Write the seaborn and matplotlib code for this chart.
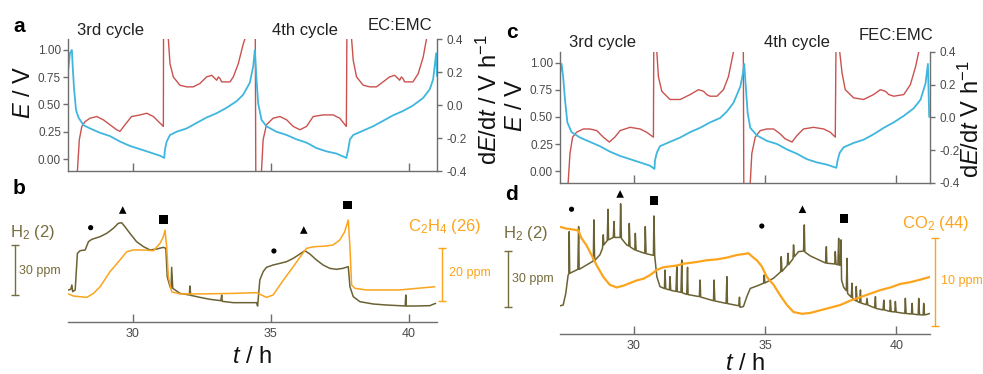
import matplotlib
matplotlib.use("Agg")
import matplotlib.pyplot as plt
import matplotlib.transforms as mtransforms
import seaborn as sns

# ---------------- data ----------------
# panel a : EC:EMC, potential E (V) and dE/dt (V/h) vs time (h)
a_t_E = [27.66, 27.73, 27.80, 27.83, 27.88, 27.95, 28.04, 28.22, 28.46, 28.82,
         29.18, 29.54, 29.90, 30.27, 30.63, 30.99, 31.14, 31.17, 31.23, 31.35,
         31.59, 31.95, 32.31, 32.67, 33.04, 33.40, 33.76, 34.00, 34.24, 34.36,
         34.42, 34.48, 34.54, 34.66, 34.84, 35.20, 35.57, 35.93, 36.29, 36.65,
         37.01, 37.37, 37.73, 37.80, 37.86, 37.98, 38.34, 38.70, 39.06, 39.42,
         39.78, 40.14, 40.51, 40.75, 40.87, 40.98, 41.01]
a_E = [0.80, 0.97, 1.00, 0.85, 0.64, 0.45, 0.38, 0.31, 0.28, 0.24,
       0.21, 0.16, 0.12, 0.09, 0.06, 0.03, 0.01, 0.09, 0.16, 0.22,
       0.25, 0.28, 0.33, 0.38, 0.42, 0.47, 0.53, 0.59, 0.70, 0.85,
       1.00, 0.73, 0.51, 0.36, 0.30, 0.25, 0.22, 0.18, 0.15, 0.10,
       0.07, 0.05, 0.01, 0.09, 0.18, 0.22, 0.26, 0.30, 0.35, 0.40,
       0.44, 0.49, 0.56, 0.64, 0.73, 0.97, 0.76]
a_t_d = [27.93, 28.00, 28.07, 28.16, 28.28, 28.46, 28.70, 28.94, 29.18, 29.42,
         29.54, 29.72, 29.96, 30.27, 30.51, 30.75, 30.99, 31.11, 31.12, 31.27,
         31.29, 31.35, 31.47, 31.71, 31.95, 32.19, 32.43, 32.67, 32.86, 33.04,
         33.10, 33.16, 33.22, 33.52, 33.64, 33.82, 34.00, 34.06, 34.18, 34.43,
         34.46, 34.64, 34.66, 34.72, 34.84, 35.08, 35.33, 35.57, 35.81, 36.05,
         36.29, 36.53, 36.89, 37.25, 37.49, 37.73, 37.76, 37.89, 37.92, 37.98,
         38.10, 38.34, 38.58, 38.82, 39.06, 39.29, 39.48, 39.66, 39.72, 39.78,
         39.84, 40.14, 40.33, 40.51, 40.63, 40.75]
a_dEdt = [-0.70, -0.40, -0.21, -0.13, -0.10, -0.08, -0.07, -0.09, -0.12, -0.15,
          -0.16, -0.12, -0.07, -0.06, -0.05, -0.07, -0.11, -0.13, 0.70, 0.70,
          0.40, 0.25, 0.17, 0.12, 0.11, 0.11, 0.13, 0.17, 0.18, 0.15,
          0.17, 0.16, 0.14, 0.14, 0.17, 0.25, 0.37, 0.40, 0.70, 0.70,
          -0.70, -0.70, -0.40, -0.21, -0.12, -0.08, -0.07, -0.09, -0.13, -0.15,
          -0.13, -0.07, -0.06, -0.06, -0.08, -0.13, 0.70, 0.70, 0.40, 0.27,
          0.17, 0.12, 0.11, 0.11, 0.14, 0.17, 0.18, 0.15, 0.17, 0.16,
          0.14, 0.14, 0.19, 0.29, 0.40, 0.70]

# panel c : FEC:EMC
c_t_E = [27.18, 27.24, 27.30, 27.37, 27.46, 27.62, 27.94, 28.32, 28.70, 29.08,
         29.47, 29.85, 30.23, 30.61, 30.78, 30.80, 30.87, 30.99, 31.37, 31.76,
         32.14, 32.52, 32.90, 33.28, 33.54, 33.79, 34.05, 34.15, 34.20, 34.26,
         34.33, 34.43, 34.68, 35.06, 35.45, 35.83, 36.21, 36.59, 36.97, 37.35,
         37.71, 37.76, 37.84, 37.99, 38.37, 38.75, 39.13, 39.52, 39.90, 40.28,
         40.66, 40.92, 41.11, 41.20, 41.25]
c_E = [0.90, 0.99, 0.87, 0.66, 0.45, 0.36, 0.31, 0.27, 0.23, 0.18,
       0.14, 0.11, 0.08, 0.05, 0.02, 0.10, 0.17, 0.23, 0.27, 0.31,
       0.36, 0.40, 0.45, 0.49, 0.55, 0.63, 0.78, 0.90, 0.99, 0.78,
       0.54, 0.40, 0.33, 0.28, 0.25, 0.20, 0.16, 0.11, 0.08, 0.06,
       0.03, 0.10, 0.17, 0.22, 0.26, 0.29, 0.34, 0.40, 0.45, 0.51,
       0.58, 0.66, 0.81, 0.99, 0.50]
c_t_d = [27.46, 27.49, 27.56, 27.66, 27.81, 28.07, 28.32, 28.58, 28.83, 29.06,
         29.27, 29.47, 29.85, 30.23, 30.48, 30.74, 30.76, 30.84, 30.87, 30.93,
         31.06, 31.37, 31.76, 32.14, 32.46, 32.65, 32.77, 32.90, 33.16, 33.41,
         33.60, 33.79, 33.92, 34.16, 34.19, 34.40, 34.43, 34.49, 34.62, 34.81,
         35.06, 35.32, 35.57, 35.76, 36.02, 36.21, 36.46, 36.84, 37.23, 37.48,
         37.67, 37.71, 37.81, 37.84, 37.93, 38.05, 38.37, 38.75, 39.13, 39.39,
         39.58, 39.71, 39.90, 40.28, 40.53, 40.73, 40.85, 40.94]
c_dEdt = [-0.70, -0.40, -0.22, -0.12, -0.09, -0.07, -0.07, -0.08, -0.12, -0.15,
          -0.12, -0.08, -0.06, -0.07, -0.09, -0.12, 0.70, 0.70, 0.40, 0.25,
          0.16, 0.11, 0.11, 0.14, 0.17, 0.16, 0.14, 0.13, 0.13, 0.17,
          0.25, 0.40, 0.70, 0.70, -0.70, -0.70, -0.40, -0.22, -0.12, -0.08,
          -0.07, -0.07, -0.10, -0.13, -0.15, -0.11, -0.07, -0.06, -0.07, -0.09,
          -0.12, 0.70, 0.70, 0.40, 0.27, 0.17, 0.12, 0.11, 0.14, 0.17,
          0.16, 0.14, 0.13, 0.14, 0.20, 0.31, 0.40, 0.70]

# panel b : H2 (m/z 2) and C2H4 (m/z 26), ppm (relative)
b_t_h2 = [27.67, 27.76, 27.80, 27.83, 27.92, 28.00, 28.10, 28.28, 28.40, 28.52,
          28.82, 29.06, 29.30, 29.48, 29.60, 29.72, 29.90, 30.14, 30.39, 30.63,
          30.87, 31.11, 31.20, 31.25, 31.35, 31.39, 31.41, 31.45, 31.71, 32.05,
          32.07, 32.10, 32.43, 32.80, 33.19, 33.22, 33.24, 33.64, 34.12, 34.48,
          34.52, 34.60, 34.72, 34.84, 35.08, 35.33, 35.57, 35.81, 36.05, 36.23,
          36.41, 36.65, 36.89, 37.13, 37.37, 37.61, 37.80, 37.86, 37.98, 38.22,
          38.70, 39.18, 39.86, 39.88, 39.90, 40.27, 40.75, 40.96]
b_h2 = [19.2, 19.6, 22.2, 18.2, 19.2, 41.2, 42.8, 43.2, 48.2, 49.6,
        51.2, 53.2, 56.2, 59.2, 59.6, 57.2, 53.2, 48.2, 45.2, 43.2,
        43.8, 44.8, 44.2, 27.2, 21.2, 20.2, 32.8, 20.2, 17.2, 16.2,
        21.6, 16.0, 14.8, 13.6, 12.8, 16.2, 12.4, 11.6, 11.6, 11.6,
        9.6, 25.2, 30.2, 32.8, 34.2, 35.2, 36.2, 38.2, 40.8, 42.8,
        40.8, 37.2, 34.2, 32.2, 31.6, 32.2, 33.2, 21.2, 15.2, 12.2,
        10.8, 10.2, 9.6, 16.2, 9.6, 9.6, 9.8, 11.2]
b_t_c2h4 = [27.67, 27.86, 28.34, 28.58, 28.82, 29.18, 29.54, 29.78, 30.02, 30.39,
            30.75, 30.99, 31.11, 31.17, 31.23, 31.29, 31.41, 31.71, 32.43, 33.64,
            34.48, 34.84, 35.08, 35.45, 35.81, 36.11, 36.29, 36.53, 37.01, 37.25,
            37.49, 37.67, 37.80, 37.86, 37.92, 38.04, 38.46, 39.66, 40.27, 40.93]
b_c2h4 = [10.6, 9.8, 9.3, 10.8, 13.3, 19.0, 23.4, 26.5, 27.2, 27.2,
          26.9, 29.7, 32.2, 34.7, 28.4, 17.1, 11.4, 10.6, 10.6, 10.8,
          11.1, 9.3, 10.2, 15.8, 20.9, 25.3, 27.8, 28.4, 28.7, 29.1,
          30.9, 34.1, 38.5, 28.4, 14.0, 12.7, 12.1, 12.1, 12.7, 13.3]
b_mark_t = [28.48, 29.64, 31.11, 35.11, 36.19, 37.77]
b_mark_y = [56.6, 67.2, 61.6, 42.6, 55.2, 70.2]

# panel d : H2 (m/z 2) and CO2 (m/z 44), ppm (relative)
d_t_h2 = [27.18, 27.30, 27.40, 27.49, 27.52, 27.53, 27.55, 27.68, 27.86, 27.89,
          27.91, 28.19, 28.45, 28.47, 28.50, 28.70, 28.80, 28.83, 28.85, 28.98,
          29.01, 29.03, 29.21, 29.24, 29.26, 29.47, 29.49, 29.52, 29.72, 29.80,
          29.82, 29.85, 30.03, 30.05, 30.08, 30.41, 30.43, 30.46, 30.74, 30.76,
          30.79, 30.87, 30.99, 31.16, 31.18, 31.21, 31.35, 31.37, 31.40, 31.60,
          31.63, 31.65, 31.79, 31.82, 31.84, 32.01, 32.04, 32.06, 32.49, 32.52,
          32.54, 33.03, 33.05, 33.08, 33.51, 33.54, 33.56, 33.99, 34.02, 34.04,
          34.17, 34.30, 34.43, 34.68, 34.94, 34.96, 34.99, 35.32, 35.59, 35.61,
          35.64, 35.84, 35.87, 35.89, 36.06, 36.08, 36.11, 36.27, 36.46, 36.49,
          36.51, 36.72, 37.10, 37.30, 37.33, 37.35, 37.65, 37.67, 37.70, 37.77,
          37.80, 37.82, 37.86, 37.89, 37.91, 37.99, 38.09, 38.12, 38.14, 38.28,
          38.31, 38.33, 38.45, 38.47, 38.50, 38.60, 38.63, 38.65, 38.85, 38.88,
          38.91, 39.17, 39.20, 39.22, 39.49, 39.52, 39.54, 39.75, 39.77, 39.80,
          39.94, 39.96, 39.99, 40.32, 40.34, 40.37, 40.57, 40.60, 40.62, 40.83,
          40.85, 40.88, 41.02, 41.04, 41.07, 41.28]
d_h2 = [15.1, 15.5, 21.7, 31.6, 32.2, 54.8, 32.5, 33.4, 34.6, 57.5,
        34.6, 36.9, 39.1, 61.1, 39.3, 42.4, 45.9, 53.1, 47.7, 50.0,
        66.8, 50.4, 51.7, 60.2, 51.7, 51.7, 69.7, 51.2, 47.7, 47.1,
        59.2, 46.7, 45.0, 53.9, 44.8, 43.2, 57.5, 43.0, 42.1, 63.2,
        41.8, 30.7, 25.4, 24.3, 34.2, 24.2, 23.6, 30.7, 23.4, 22.8,
        36.1, 22.7, 22.3, 39.6, 22.1, 21.2, 35.7, 21.1, 20.0, 28.9,
        19.8, 17.8, 28.9, 17.7, 16.4, 30.7, 16.3, 15.1, 19.7, 14.3,
        14.7, 20.0, 24.4, 25.7, 27.2, 31.6, 27.3, 29.9, 33.3, 41.4,
        33.5, 36.8, 43.2, 37.1, 40.3, 47.7, 41.4, 44.1, 44.4, 58.4,
        43.9, 41.8, 39.3, 38.0, 46.7, 37.9, 37.5, 44.1, 37.3, 37.1,
        51.2, 36.9, 36.8, 50.4, 28.9, 25.0, 23.2, 40.5, 21.7, 19.7,
        27.2, 19.1, 17.8, 25.4, 17.5, 16.8, 23.6, 16.6, 15.7, 19.1,
        15.5, 14.0, 20.0, 13.7, 12.9, 18.1, 12.9, 12.1, 18.1, 12.0,
        11.8, 17.4, 11.7, 11.0, 19.1, 11.0, 10.7, 16.4, 10.7, 10.3,
        19.1, 10.3, 10.2, 16.4, 10.2, 11.0]
d_t_co2 = [27.18, 27.43, 27.68, 27.88, 28.00, 28.19, 28.38, 28.58, 28.83, 29.08,
           29.34, 29.59, 29.85, 30.10, 30.36, 30.61, 30.87, 31.12, 31.37, 31.63,
           31.88, 32.14, 32.39, 32.77, 33.16, 33.54, 33.92, 34.17, 34.36, 34.55,
           34.68, 34.87, 35.06, 35.32, 35.57, 35.83, 36.08, 36.40, 36.72, 37.10,
           37.48, 37.86, 38.24, 38.63, 39.01, 39.39, 39.77, 40.15, 40.53, 40.92, 41.28]
d_co2 = [12.2, 12.0, 11.9, 11.8, 10.9, 10.1, 9.0, 7.8, 6.5, 5.6,
         5.3, 5.5, 5.8, 6.1, 6.3, 6.7, 7.3, 7.6, 7.7, 7.8,
         8.0, 8.1, 8.2, 8.4, 8.5, 8.7, 9.0, 9.1, 9.2, 8.7,
         8.4, 7.7, 6.5, 5.6, 4.4, 3.3, 2.5, 2.3, 2.4, 2.7,
         3.0, 3.3, 3.8, 4.2, 4.6, 5.0, 5.3, 5.7, 5.9, 6.2, 6.5]
d_mark_t = [27.62, 29.47, 30.76, 34.87, 36.42, 37.99]
d_mark_y = [66.8, 75.0, 71.4, 57.8, 66.8, 61.9]
mark_styles = ["o", "^", "s", "o", "^", "s"]

E_ticks = [0.0, 0.25, 0.50, 0.75, 1.00]
E_ticklabels = ["0.00", "0.25", "0.50", "0.75", "1.00"]
d_ticks = [-0.4, -0.2, 0.0, 0.2, 0.4]
d_ticklabels = ["-0.4", "-0.2", "0.0", "0.2", "0.4"]
t_ticks = [30, 35, 40]
t_ticklabels = ["30", "35", "40"]

# ---------------- style ----------------
sns.set_style("ticks")
plt.rcParams["font.family"] = ["Liberation Sans", "DejaVu Sans"]
plt.rcParams["mathtext.fontset"] = "custom"
plt.rcParams["mathtext.rm"] = "Liberation Sans"
plt.rcParams["mathtext.it"] = "Liberation Sans:italic"
plt.rcParams["mathtext.bf"] = "Liberation Sans:bold"
plt.rcParams["axes.unicode_minus"] = False

BLUE = "#3fb6de"
RED = "#c9524f"
OLIVE = "#6b6234"
OLIVE_T = "#766c3c"
ORANGE = "#fba41c"
SPINE = "#6e6e6e"
TICKLAB = "#4a4a4a"

W, H = 983, 374
fig = plt.figure(figsize=(W / 100, H / 100), dpi=100)


def rect(x0, y0, x1, y1):
    return [x0 / W, 1 - y1 / H, (x1 - x0) / W, (y1 - y0) / H]


def ftext(x, y, s, **kw):
    fig.text(x / W, 1 - y / H, s, **kw)


def style_axis(ax):
    for sp in ax.spines.values():
        sp.set_color(SPINE)
        sp.set_linewidth(1.0)


def echem_panel(pos, xlim, tE, E, td, dd):
    ax = fig.add_axes(pos)
    ax2 = ax.twinx()
    sns.lineplot(x=td, y=dd, ax=ax2, color=RED, lw=1.0, estimator=None, sort=False)
    sns.lineplot(x=tE, y=E, ax=ax, color=BLUE, lw=1.3, estimator=None, sort=False)
    ax.set_zorder(ax2.get_zorder() + 1)
    ax.patch.set_visible(False)
    ax.set_xlim(*xlim)
    ax.set_ylim(-0.11, 1.10)
    ax2.set_ylim(-0.4, 0.4)
    ax.set_yticks(E_ticks)
    ax.set_yticklabels(E_ticklabels)
    ax2.set_yticks(d_ticks)
    ax2.set_yticklabels(d_ticklabels)
    ax.set_xticks(t_ticks)
    ax.set_xticklabels([])
    style_axis(ax)
    style_axis(ax2)
    ax.spines["top"].set_visible(False)
    ax.spines["right"].set_visible(False)
    ax2.spines["top"].set_visible(False)
    ax2.spines["left"].set_visible(False)
    ax2.spines["bottom"].set_visible(False)
    ax.tick_params(axis="y", direction="out", length=3.5, width=1, pad=1.5,
                   colors=SPINE, labelcolor=TICKLAB, labelsize=8.5)
    ax.tick_params(axis="x", direction="in", length=6, width=1, colors=SPINE)
    ax2.tick_params(axis="y", direction="out", length=3.5, width=1, pad=3,
                    colors=SPINE, labelcolor=TICKLAB, labelsize=8.5)
    for a in (ax, ax2):
        a.set_xlabel("")
        a.set_ylabel("")
    return ax, ax2


def ms_panel(pos, xlim, ylim1, ylim2, t1, y1, t2, y2, mt, my, lw2):
    ax = fig.add_axes(pos)
    ax2 = ax.twinx()
    sns.lineplot(x=t1, y=y1, ax=ax, color=OLIVE, lw=1.1, estimator=None, sort=False)
    sns.lineplot(x=t2, y=y2, ax=ax2, color=ORANGE, lw=lw2, estimator=None, sort=False)
    for t, y, m in zip(mt, my, mark_styles):
        size = {"o": 14, "^": 30, "s": 36}[m]
        sns.scatterplot(x=[t], y=[y], ax=ax, marker=m, s=size, color="black",
                        edgecolor="none", zorder=5)
    ax.set_xlim(*xlim)
    ax2.set_xlim(*xlim)
    ax.set_ylim(*ylim1)
    ax2.set_ylim(*ylim2)
    for a in (ax, ax2):
        for k in ("top", "left", "right"):
            a.spines[k].set_visible(False)
        a.set_yticks([])
        a.set_ylabel("")
        a.set_xlabel("")
        style_axis(a)
    ax2.spines["bottom"].set_visible(False)
    ax.set_xticks(t_ticks)
    ax.set_xticklabels(t_ticklabels)
    ax.tick_params(axis="x", direction="in", length=6, width=1, pad=4,
                   colors=SPINE, labelcolor=TICKLAB, labelsize=9)
    return ax, ax2


def scale_bar(ax, xfrac, y0, y1, color):
    tr = mtransforms.blended_transform_factory(ax.transAxes, ax.transData)
    ax.plot([xfrac, xfrac], [y0, y1], transform=tr, clip_on=False, color=color,
            lw=1.0, marker="_", ms=6, mew=1.0)


# panel a
ax_a, ax_a2 = echem_panel(rect(68, 39, 437, 171), (27.66, 41.01), a_t_E, a_E, a_t_d, a_dEdt)
# panel c
ax_c, ax_c2 = echem_panel(rect(560, 52, 930, 183), (27.18, 41.28), c_t_E, c_E, c_t_d, c_dEdt)

# panel b
ax_b, ax_b2 = ms_panel(rect(68, 188, 437, 322), (27.66, 41.01), (0, 80.4), (0, 50.6),
                       b_t_h2, b_h2, b_t_c2h4, b_c2h4, b_mark_t, b_mark_y, 1.1)
scale_bar(ax_b, (15 - 68) / 369, 16, 46, OLIVE_T)
scale_bar(ax_b2, (442 - 68) / 369, 7.9, 27.9, ORANGE)

# panel d
ax_d, ax_d2 = ms_panel(rect(560, 190, 930, 334), (27.18, 41.28), (0, 77.1), (0, 16.4),
                       d_t_h2, d_h2, d_t_co2, d_co2, d_mark_t, d_mark_y, 1.6)
scale_bar(ax_d, (508 - 560) / 370, 14.5, 44.5, OLIVE_T)
scale_bar(ax_d2, (935 - 560) / 370, 0.9, 10.9, ORANGE)

# ---------------- texts ----------------
bold = dict(fontsize=15, fontweight="bold", ha="center", va="center", color="black")
ftext(19, 26, "a", **bold)
ftext(19, 189, "b", **bold)
ftext(512, 33, "c", **bold)
ftext(512, 195, "d", **bold)

lab = dict(fontsize=12, va="center", ha="left", color="#222222")
ftext(77, 31, "3rd cycle", **lab)
ftext(272, 31, "4th cycle", **lab)
ftext(368, 26, "EC:EMC", **lab)
ftext(569, 43, "3rd cycle", **lab)
ftext(764, 43, "4th cycle", **lab)
ftext(859, 35, "FEC:EMC", **lab)

big = dict(fontsize=17, ha="center", va="center", color="#111111")
ftext(24, 92, r"$\mathit{E}$ / V", rotation=90, **big)
ftext(516, 105, r"$\mathit{E}$ / V", rotation=90, **big)
ftext(489, 100, r"d$\mathit{E}$/d$\mathit{t}$ / V h$^{-1}$", rotation=90, **big)
ftext(971, 119, r"d$\mathit{E}$/d$\mathit{t}$ V h$^{-1}$", rotation=90, **big)
ftext(252, 357, r"$\mathit{t}$ / h", **big)
ftext(745, 364, r"$\mathit{t}$ / h", **big)

ftext(10, 232, r"H$_2$ (2)", fontsize=12, ha="left", va="center", color=OLIVE_T)
ftext(408, 227, r"C$_2$H$_4$ (26)", fontsize=12, ha="left", va="center", color=ORANGE)
ftext(19, 271, "30 ppm", fontsize=9, ha="left", va="center", color=OLIVE_T)
ftext(449, 273, "20 ppm", fontsize=9, ha="left", va="center", color=ORANGE)
ftext(503, 233, r"H$_2$ (2)", fontsize=12, ha="left", va="center", color=OLIVE_T)
ftext(902, 224, r"CO$_2$ (44)", fontsize=12, ha="left", va="center", color=ORANGE)
ftext(512, 279, "30 ppm", fontsize=9, ha="left", va="center", color=OLIVE_T)
ftext(941, 281, "10 ppm", fontsize=9, ha="left", va="center", color=ORANGE)

fig.savefig("out.png", dpi=100)
